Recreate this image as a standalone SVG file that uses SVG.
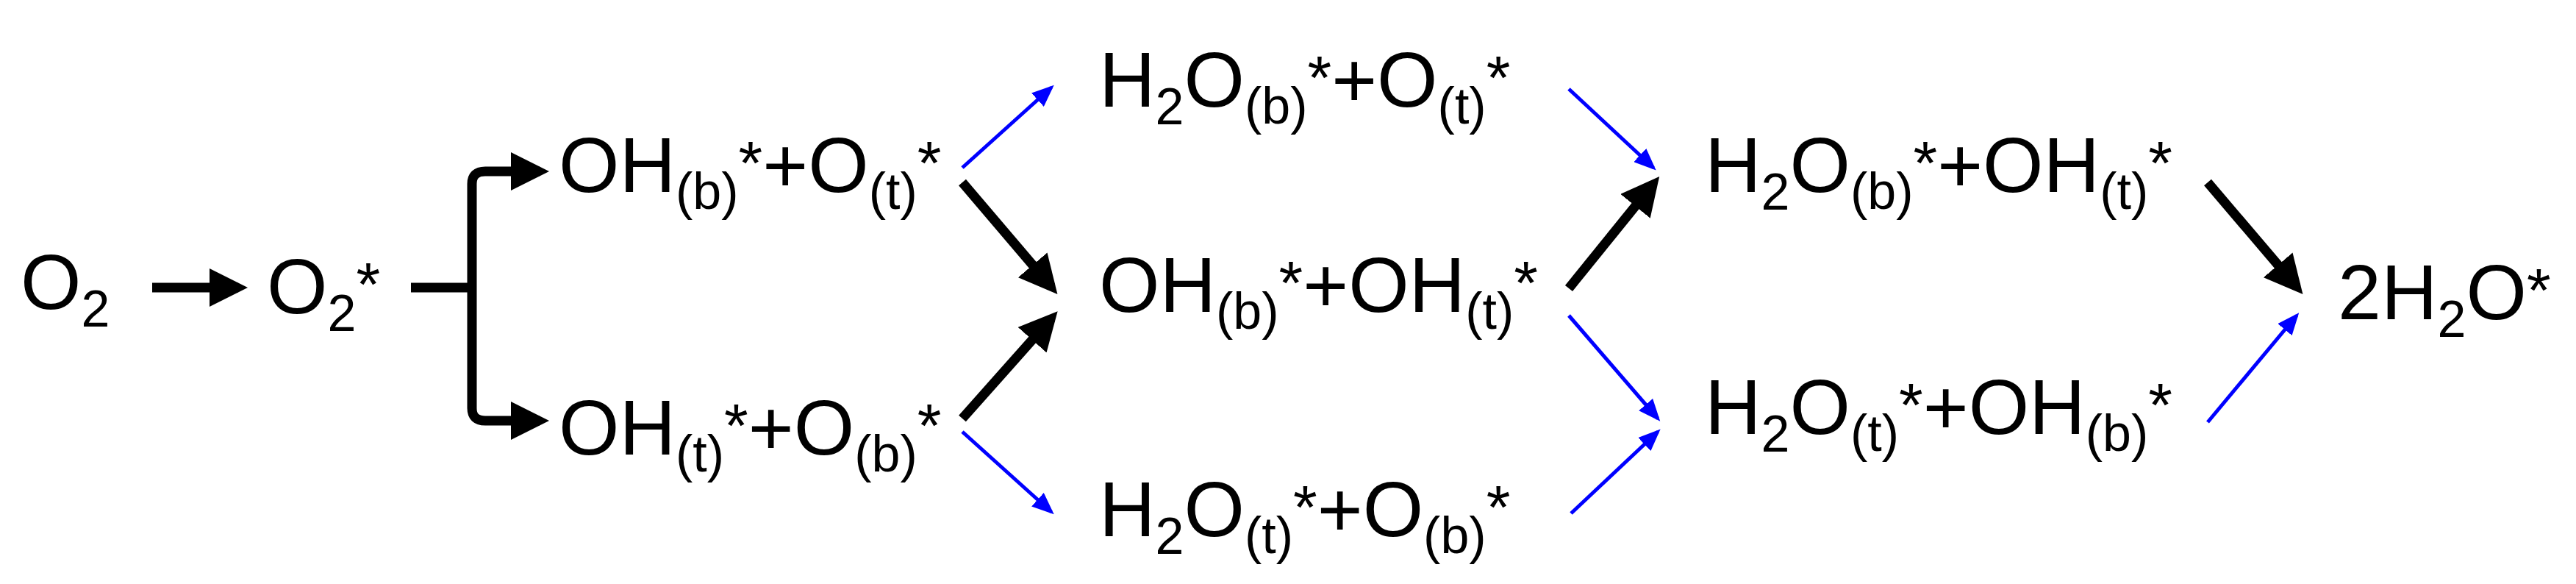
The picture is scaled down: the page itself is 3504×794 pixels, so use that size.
<svg xmlns="http://www.w3.org/2000/svg" width="3504" height="794" viewBox="0 0 3504 794">
<style>
text{font-family:"Liberation Sans",Arial,sans-serif;font-size:106px;fill:#000}
.s{font-size:70px}
.a{font-size:84px}
.k{fill:none;stroke:#000;stroke-width:13}
.b{fill:none;stroke:#0000ff;stroke-width:5}
</style>
<defs>
<marker id="hk" markerUnits="strokeWidth" markerWidth="4" markerHeight="4" refX="3" refY="2" orient="auto"><path d="M0,0 L4,2 L0,4 z" fill="#000"/></marker>
<marker id="hb" markerUnits="strokeWidth" markerWidth="6" markerHeight="5" refX="5" refY="2.5" orient="auto"><path d="M0,0 L6,2.5 L0,5 z" fill="#0000ff"/></marker>
</defs>
<rect width="3504" height="794" fill="#fff"/>
<g id="n1"><text x="28" y="420">O<tspan class="s" dy="24">2</tspan></text></g>
<g id="n2"><text x="363" y="426">O<tspan class="s" dy="24">2</tspan><tspan class="a" dy="-34">*</tspan></text></g>
<g id="n3"><text x="760" y="261">OH<tspan class="s" dy="23">(b)</tspan><tspan class="a" dy="-33">*</tspan><tspan dy="10">+O</tspan><tspan class="s" dy="23">(t)</tspan><tspan class="a" dy="-33">*</tspan></text></g>
<g id="n4"><text x="760" y="618">OH<tspan class="s" dy="23">(t)</tspan><tspan class="a" dy="-33">*</tspan><tspan dy="10">+O</tspan><tspan class="s" dy="23">(b)</tspan><tspan class="a" dy="-33">*</tspan></text></g>
<g id="n5"><text x="1495" y="145">H<tspan class="s" dy="24">2</tspan><tspan dy="-24">O</tspan><tspan class="s" dy="23">(b)</tspan><tspan class="a" dy="-33">*</tspan><tspan dy="10">+O</tspan><tspan class="s" dy="23">(t)</tspan><tspan class="a" dy="-33">*</tspan></text></g>
<g id="n6"><text x="1495" y="424">OH<tspan class="s" dy="23">(b)</tspan><tspan class="a" dy="-33">*</tspan><tspan dy="10">+OH</tspan><tspan class="s" dy="23">(t)</tspan><tspan class="a" dy="-33">*</tspan></text></g>
<g id="n7"><text x="1495" y="729">H<tspan class="s" dy="24">2</tspan><tspan dy="-24">O</tspan><tspan class="s" dy="23">(t)</tspan><tspan class="a" dy="-33">*</tspan><tspan dy="10">+O</tspan><tspan class="s" dy="23">(b)</tspan><tspan class="a" dy="-33">*</tspan></text></g>
<g id="n8"><text x="2319" y="261">H<tspan class="s" dy="24">2</tspan><tspan dy="-24">O</tspan><tspan class="s" dy="23">(b)</tspan><tspan class="a" dy="-33">*</tspan><tspan dy="10">+OH</tspan><tspan class="s" dy="23">(t)</tspan><tspan class="a" dy="-33">*</tspan></text></g>
<g id="n9"><text x="2319" y="590">H<tspan class="s" dy="24">2</tspan><tspan dy="-24">O</tspan><tspan class="s" dy="23">(t)</tspan><tspan class="a" dy="-33">*</tspan><tspan dy="10">+OH</tspan><tspan class="s" dy="23">(b)</tspan><tspan class="a" dy="-33">*</tspan></text></g>
<g id="n10"><text x="3180" y="434">2H<tspan class="s" dy="24">2</tspan><tspan dy="-24">O</tspan><tspan class="a" dy="-10">*</tspan></text></g>
<g id="connectors">
<path class="k" d="M207,391 H324" marker-end="url(#hk)"/>
<path class="k" d="M559,391 H642"/>
<path class="k" d="M642,391 V250 Q642,233 660,233 H734" marker-end="url(#hk)"/>
<path class="k" d="M642,391 V555 Q642,572 660,572 H734" marker-end="url(#hk)"/>
<path class="k" d="M1309,248 L1430,390" marker-end="url(#hk)"/>
<path class="k" d="M1309,569 L1430,433" marker-end="url(#hk)"/>
<path class="b" d="M1309,228 L1430,119" marker-end="url(#hb)"/>
<path class="b" d="M1309,587 L1430,696" marker-end="url(#hb)"/>
<path class="b" d="M2134,121 L2249,228" marker-end="url(#hb)"/>
<path class="k" d="M2134,392 L2249,250" marker-end="url(#hk)"/>
<path class="b" d="M2134,429 L2255,569" marker-end="url(#hb)"/>
<path class="b" d="M2137,698 L2255,587" marker-end="url(#hb)"/>
<path class="k" d="M3003,248 L3124,390" marker-end="url(#hk)"/>
<path class="b" d="M3003,574 L3124,429" marker-end="url(#hb)"/>
</g>
</svg>
